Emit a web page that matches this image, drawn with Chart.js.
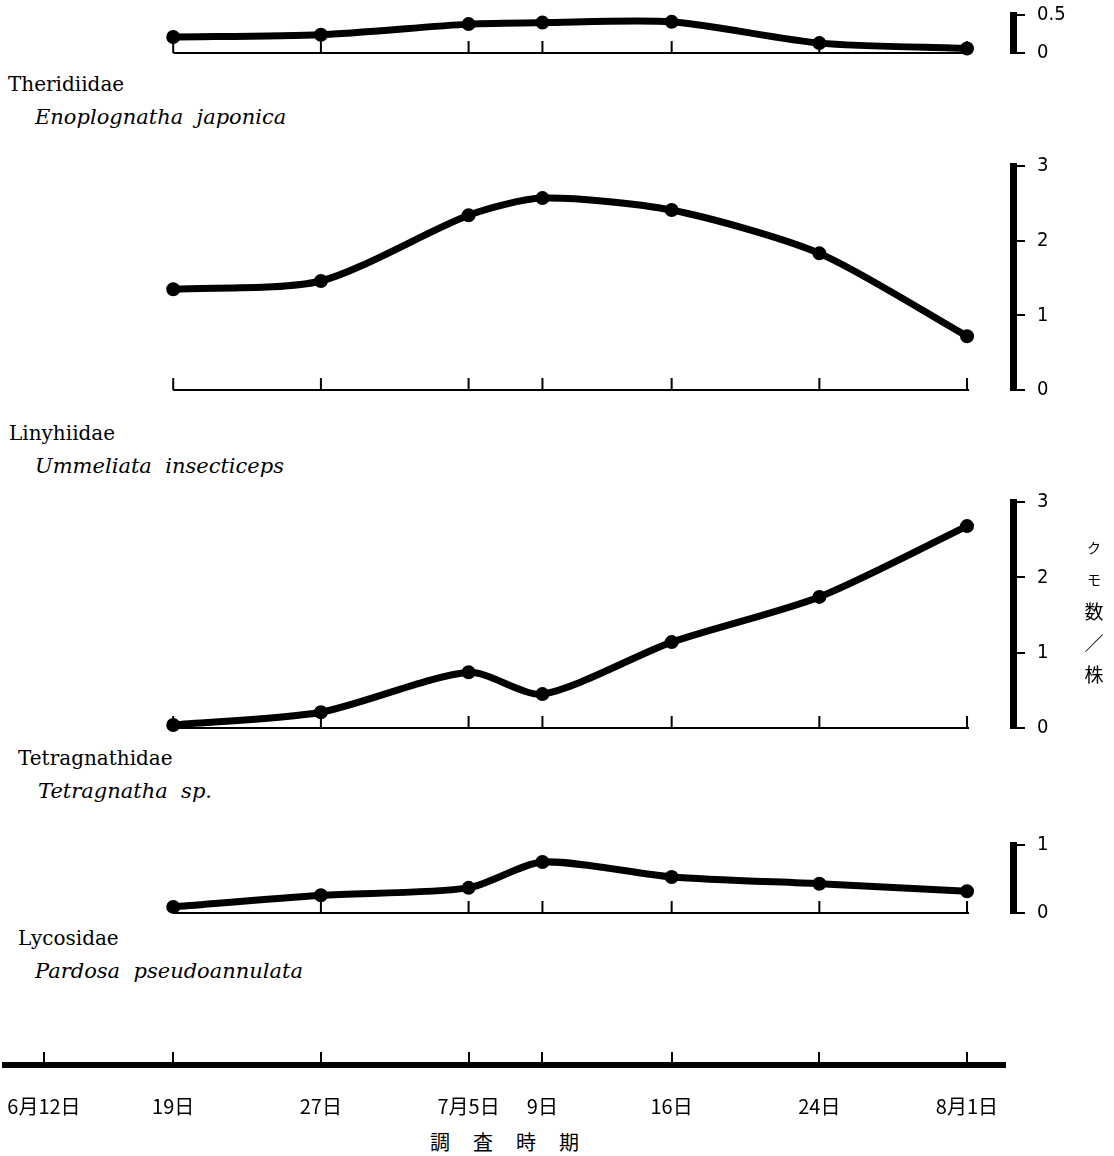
<!DOCTYPE html>
<html>
<head>
<meta charset="utf-8">
<script src="https://cdn.jsdelivr.net/npm/chart.js@4.4.1/dist/chart.umd.min.js"></script>
<style>
  body { margin: 0; background: #fff; }
  #page { position: relative; width: 1114px; height: 1156px; overflow: hidden; background: #fff; }
  canvas { position: absolute; left: 0; }
  .fam { position: absolute; font-family: "DejaVu Serif", serif; font-size: 20px; color: #000; white-space: pre; }
  .sp { position: absolute; font-family: "DejaVu Serif", serif; font-style: italic; font-size: 21px; color: #000; white-space: pre; }
  #ylab { position: absolute; left: 1080px; top: 532px; width: 28px; font-family: "Noto Sans CJK JP", sans-serif; color: #000; text-align: center; }
  #ylab div { height: 31.5px; line-height: 31.5px; }
  #xlab { position: absolute; left: 430px; top: 1127px; font-family: "Noto Sans CJK JP", sans-serif; font-size: 20px; letter-spacing: 1.15em; color: #000; }
</style>
</head>
<body>
<div id="page">
  <canvas id="pTop" width="1114" height="62" style="top:3px"></canvas>
  <canvas id="pEno" width="1114" height="248" style="top:154px"></canvas>
  <canvas id="pUmm" width="1114" height="250" style="top:490px"></canvas>
  <canvas id="pTet" width="1114" height="92" style="top:833px"></canvas>
  <canvas id="pAxis" width="1114" height="85" style="top:1040px"></canvas>

  <div class="fam" style="left:8px;top:72px">Theridiidae</div>
  <div class="sp" style="left:35px;top:105px">Enoplognatha  japonica</div>
  <div class="fam" style="left:9px;top:421px">Linyhiidae</div>
  <div class="sp" style="left:35px;top:454px">Ummeliata  insecticeps</div>
  <div class="fam" style="left:18px;top:746px">Tetragnathidae</div>
  <div class="sp" style="left:38px;top:779px">Tetragnatha  sp.</div>
  <div class="fam" style="left:18px;top:926px">Lycosidae</div>
  <div class="sp" style="left:35px;top:959px">Pardosa  pseudoannulata</div>

  <div id="ylab">
    <div style="font-size:14px">ク</div>
    <div style="font-size:14px">モ</div>
    <div style="font-size:19px">数</div>
    <div style="font-size:19px">／</div>
    <div style="font-size:19px">株</div>
  </div>
  <div id="xlab">調査時期</div>
</div>
<script>
// survey dates, counted in days from 12 June
var days = [0, 7, 15, 23, 27, 34, 42, 50];
var dateLabels = ['6月12日', '19日', '27日', '7月5日', '9日', '16日', '24日', '8月1日'];
var surveyDays = days.slice(1);

// spiders per plant
var topSeries    = [0.21, 0.24, 0.38, 0.40, 0.41, 0.13, 0.06];
var enoplognatha = [1.35, 1.46, 2.34, 2.57, 2.41, 1.83, 0.72];
var ummeliata    = [0.04, 0.21, 0.74, 0.45, 1.14, 1.74, 2.68];
var tetragnatha  = [0.09, 0.26, 0.37, 0.75, 0.53, 0.43, 0.32];

var topTicks = [0, 0.5];
var ticks3 = [0, 1, 2, 3];
var ticks1 = [0, 1];

var tickFont = { family: "'DejaVu Sans Condensed', 'Liberation Sans', sans-serif", size: 20 };

// small baseline with upward ticks under each panel
var baseline = {
    id: 'baseline',
    beforeDatasetsDraw: function (chart) {
        var ctx = chart.ctx, xs = chart.scales.x, ys = chart.scales.y;
        var y0 = ys.getPixelForValue(0);
        ctx.save();
        ctx.strokeStyle = '#000';
        ctx.lineWidth = 2;
        ctx.beginPath();
        ctx.moveTo(xs.getPixelForValue(surveyDays[0]), y0);
        ctx.lineTo(xs.getPixelForValue(surveyDays[surveyDays.length - 1]) + 2, y0);
        surveyDays.forEach(function (d) {
            var x = xs.getPixelForValue(d);
            ctx.moveTo(x, y0);
            ctx.lineTo(x, y0 - 12);
        });
        ctx.stroke();
        ctx.restore();
    }
};

function makePanel(id, values, yMax, yTicks) {
    var ctx = document.getElementById(id).getContext("2d");
    return new Chart(ctx, {
        type: "line",
        data: {
            datasets: [{
                data: surveyDays.map(function (d, i) { return { x: d, y: values[i] }; }),
                borderColor: "#000",
                backgroundColor: "#000",
                borderWidth: 7,
                pointRadius: 3.5,
                tension: 0.25,
                clip: false
            }]
        },
        options: {
            responsive: false,
            animation: false,
            layout: { padding: { left: 44, right: 41, top: 12, bottom: 12 } },
            plugins: { legend: { display: false }, tooltip: { enabled: false } },
            scales: {
                x: { type: "linear", min: 0, max: 52.49, display: false },
                y: {
                    position: "right",
                    min: 0, max: yMax,
                    afterBuildTicks: function (s) { s.ticks = yTicks.map(function (v) { return { value: v }; }); },
                    afterFit: function (s) { s.width = 60; s.paddingTop = 0; s.paddingBottom = 0; },
                    grid: { drawOnChartArea: false, drawTicks: true, tickLength: 12, color: "#000", lineWidth: 2 },
                    border: { display: true, color: "#000", width: 7 },
                    ticks: { color: "#000", font: tickFont, padding: 12, callback: function (v) { return String(v); } }
                }
            }
        },
        plugins: [baseline]
    });
}

makePanel("pTop", topSeries, 0.5, topTicks);
makePanel("pEno", enoplognatha, 3, ticks3);
makePanel("pUmm", ummeliata, 3, ticks3);
makePanel("pTet", tetragnatha, 1, ticks1);

// time axis at the bottom
new Chart(document.getElementById("pAxis").getContext("2d"), {
    type: "line",
    data: { datasets: [{ data: [] }] },
    options: {
        responsive: false,
        animation: false,
        layout: { padding: { left: 5, right: 109, top: 12, bottom: 0 } },
        plugins: { legend: { display: false }, tooltip: { enabled: false } },
        scales: {
            x: {
                type: "linear", min: -2.11, max: 52.06,
                afterBuildTicks: function (s) { s.ticks = days.map(function (v) { return { value: v }; }); },
                afterFit: function (s) { s.height = 60; s.paddingLeft = 0; s.paddingRight = 0; },
                grid: { drawOnChartArea: true, drawTicks: false, color: "#000", lineWidth: 2 },
                border: { display: true, color: "#000", width: 6 },
                ticks: {
                    color: "#000", padding: 29, maxRotation: 0, autoSkip: false,
                    font: { family: "'Noto Sans CJK JP', sans-serif", size: 20 },
                    callback: function (v, i) { return dateLabels[i]; }
                }
            },
            y: { display: false, min: 0, max: 1 }
        }
    }
});
</script>
</body>
</html>
